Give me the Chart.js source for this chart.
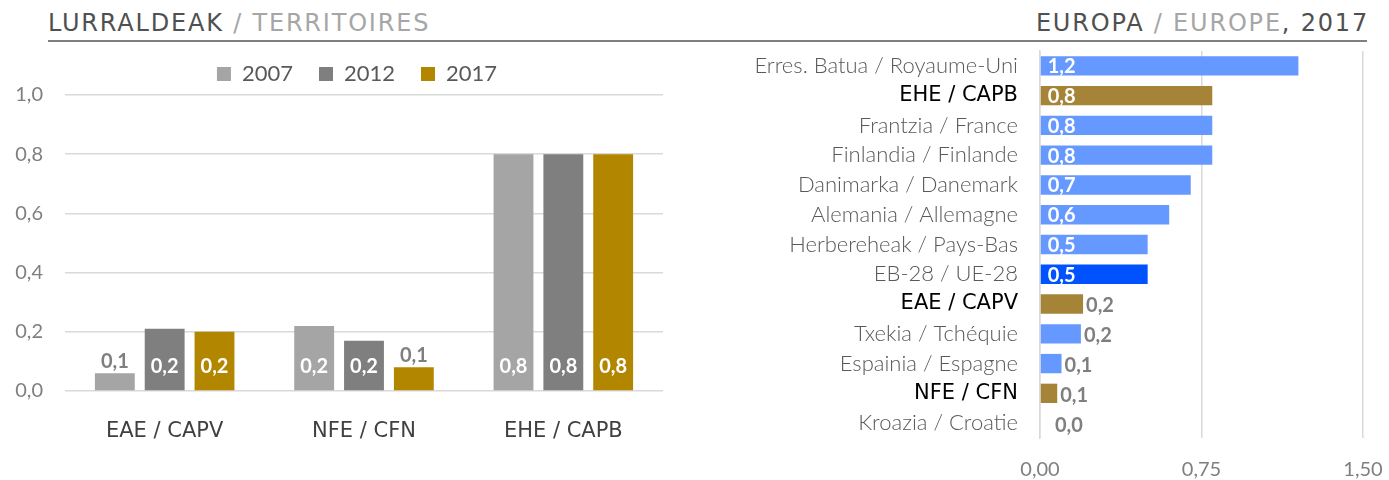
<!DOCTYPE html>
<html>
<head>
<meta charset="utf-8">
<script src="https://cdn.jsdelivr.net/npm/chart.js@4.4.1/dist/chart.umd.min.js"></script>
<style>
	body { margin: 0; width: 1389px; height: 480px; background: #fff; position: relative; overflow: hidden; }
	.title { position: absolute; top: 9px; font-family: 'DejaVu Sans'; font-size: 24px; letter-spacing: 1.8px; color: #505050; white-space: nowrap; z-index: 2; }
	#titleLeft { left: 48px; }
	#titleRight { right: 20px; }
	.light { color: #a6a6a6; }
	#rule { position: absolute; left: 48px; top: 40px; width: 1319px; height: 2px; background: #7f7f7f; z-index: 2; }
	#leftBox { position: absolute; left: 0; top: 50px; }
	#rightBox { position: absolute; left: 690px; top: 50px; }
</style>
</head>
<body>
<div class="title" id="titleLeft">LURRALDEAK <span class="light">/ TERRITOIRES</span></div>
<div class="title" id="titleRight">EUROPA <span class="light">/ EUROPE</span>, 2017</div>
<div id="rule"></div>
<div id="leftBox"><canvas id="territoryChart" width="690" height="430"></canvas></div>
<div id="rightBox"><canvas id="europeChart" width="699" height="430"></canvas></div>

<script>
const territories = ['EAE / CAPV', 'NFE / CFN', 'EHE / CAPB'];
const years = ['2007', '2012', '2017'];
const values2007 = [0.06, 0.22, 0.80];
const values2012 = [0.21, 0.17, 0.80];
const values2017 = [0.20, 0.08, 0.80];

const countries = [
	'Erres. Batua / Royaume-Uni', 'EHE / CAPB', 'Frantzia / France', 'Finlandia / Finlande',
	'Danimarka / Danemark', 'Alemania / Allemagne', 'Herbereheak / Pays-Bas', 'EB-28 / UE-28',
	'EAE / CAPV', 'Txekia / Tchéquie', 'Espainia / Espagne', 'NFE / CFN', 'Kroazia / Croatie'
];
const europeValues = [1.20, 0.80, 0.80, 0.80, 0.70, 0.60, 0.50, 0.50, 0.20, 0.19, 0.10, 0.08, 0.00];
const ownTerritories = ['EHE / CAPB', 'EAE / CAPV', 'NFE / CFN'];
const euAverage = 'EB-28 / UE-28';

const bodyFont = 'Lato';
const titleFont = 'DejaVu Sans';

function comma(v, digits) {
	return v.toFixed(digits).replace('.', ',');
}

// drop the extra room chart.js keeps round the end tick labels
function noEdgePadding(scale) {
	scale.paddingTop = 0;
	scale.paddingBottom = 0;
	scale.paddingLeft = 0;
	scale.paddingRight = 0;
}

// value labels, white inside the bar base or grey past the end when the bar is short
const valueLabels = {
	id: 'valueLabels',
	afterDatasetsDraw(chart) {
		const ctx = chart.ctx;
		const horizontal = chart.options.indexAxis === 'y';
		ctx.save();
		ctx.font = 'bold 20px ' + bodyFont;
		chart.data.datasets.forEach((ds, di) => {
			chart.getDatasetMeta(di).data.forEach((bar, i) => {
				const text = comma(ds.data[i], 1);
				if (horizontal) {
					ctx.textBaseline = 'middle';
					ctx.textAlign = 'left';
					if (ds.data[i] >= 0.4) {
						ctx.fillStyle = '#ffffff';
						ctx.fillText(text, bar.base + 7, bar.y + 1);
					} else {
						ctx.fillStyle = '#7f7f7f';
						ctx.fillText(text, Math.max(bar.x + 3, bar.base + 15), bar.y + 2);
					}
				} else {
					ctx.textAlign = 'center';
					ctx.textBaseline = 'middle';
					if (bar.base - bar.y > 34) {
						ctx.fillStyle = '#ffffff';
						ctx.fillText(text, bar.x, bar.base - 24);
					} else {
						ctx.fillStyle = '#7f7f7f';
						ctx.fillText(text, bar.x, bar.y - 12);
					}
				}
			});
		});
		ctx.restore();
	}
};

// the legend sits a little right of the canvas middle
const legendShift = {
	id: 'legendShift',
	afterLayout(chart) {
		if (chart.legend) chart.legend.left += 51;
	}
};

Chart.defaults.font.family = bodyFont;
Chart.defaults.animation = false;

new Chart(document.getElementById('territoryChart'), {
	type: 'bar',
	data: {
		labels: territories,
		datasets: [
			{ label: years[0], data: values2007, backgroundColor: '#a5a5a5' },
			{ label: years[1], data: values2012, backgroundColor: '#7f7f7f' },
			{ label: years[2], data: values2017, backgroundColor: '#b38600' },
		].map(d => Object.assign(d, { categoryPercentage: 0.75, barPercentage: 0.8 })),
	},
	options: {
		responsive: false,
		layout: { padding: { top: -13, right: 27, bottom: 0, left: 0 } },
		plugins: {
			tooltip: { enabled: false },
			legend: {
				labels: {
					boxWidth: 14,
					boxHeight: 14,
					padding: 26,
					color: '#595959',
					font: { size: 22 },
				},
			},
		},
		scales: {
			x: {
				grid: { display: false, drawTicks: false },
				border: { display: false },
				ticks: { color: '#404040', padding: 28, font: { family: titleFont, size: 21 } },
				afterFit: scale => { noEdgePadding(scale); scale.height = 89; },
			},
			y: {
				min: 0,
				max: 1,
				grid: { color: '#d9d9d9', lineWidth: 1.5, drawTicks: false },
				border: { display: false },
				ticks: {
					stepSize: 0.2,
					color: '#7f7f7f',
					padding: 22,
					font: { size: 20 },
					callback: v => comma(v, 1),
				},
				afterFit: scale => { noEdgePadding(scale); scale.width = 65; },
			},
		},
	},
	plugins: [valueLabels, legendShift],
});

new Chart(document.getElementById('europeChart'), {
	type: 'bar',
	data: {
		labels: countries,
		datasets: [{
			data: europeValues,
			backgroundColor: countries.map(c => c === euAverage ? '#0052ff' : ownTerritories.includes(c) ? '#a68437' : '#6699ff'),
			categoryPercentage: 1,
			barPercentage: 0.65,
		}],
	},
	options: {
		responsive: false,
		indexAxis: 'y',
		layout: { padding: { top: 1, right: 26, bottom: 0, left: 0 } },
		plugins: {
			tooltip: { enabled: false },
			legend: { display: false },
		},
		scales: {
			x: {
				min: 0,
				max: 1.5,
				grid: { color: '#d9d9d9', lineWidth: 1.5, drawTicks: false },
				border: { display: false },
				ticks: {
					stepSize: 0.75,
					color: '#7f7f7f',
					padding: 20,
					font: { size: 20 },
					callback: v => comma(v, 2),
				},
				afterFit: scale => { noEdgePadding(scale); scale.height = 42; },
			},
			y: {
				grid: { display: false, drawTicks: false },
				border: { display: true, color: '#d9d9d9', width: 1.5 },
				ticks: {
					padding: 22,
					color: ctx => ownTerritories.includes(countries[ctx.index]) ? '#000000' : '#595959',
					font: ctx => ownTerritories.includes(countries[ctx.index])
						? { family: titleFont, size: 21 }
						: { family: bodyFont, size: 22, weight: 300 },
				},
				afterFit: scale => { noEdgePadding(scale); scale.width = 350; },
			},
		},
	},
	plugins: [valueLabels],
});
</script>
</body>
</html>
